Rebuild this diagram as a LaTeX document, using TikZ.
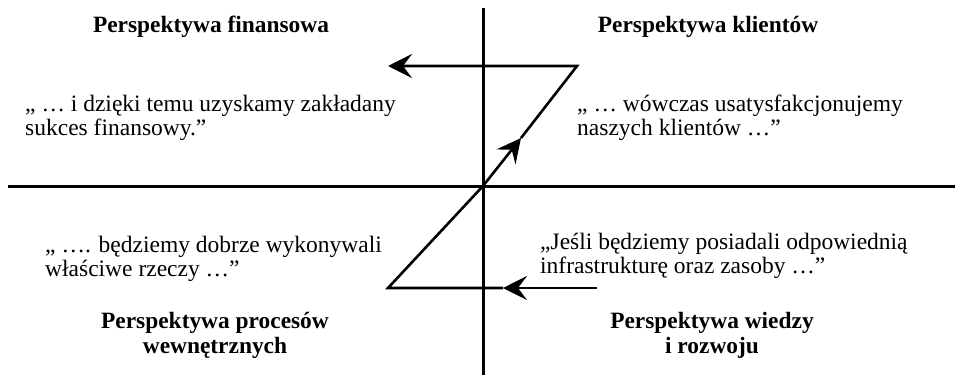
\documentclass[tikz,border=0pt]{standalone}
\usepackage{fontspec}
\setmainfont{Liberation Serif}
\usetikzlibrary{arrows.meta}
\begin{document}
\begin{tikzpicture}[x=1pt,y=-1pt,
  axis/.style={line width=3pt},
  flow/.style={line width=2.6pt},
  tip/.style={-{Stealth[length=24pt,width=24pt,inset=9pt]}},
  title/.style={font=\fontsize{23.4}{25}\selectfont\bfseries,align=center,inner sep=0pt,anchor=base},
  quote/.style={font=\fontsize{23.5}{24}\selectfont,align=left,inner sep=0pt,anchor=base west}]
\useasboundingbox (0,0) rectangle (955,375);
% axes
\coordinate (vt) at (483,8);
\coordinate (vb) at (483,375);
\coordinate (hl) at (8,186);
\coordinate (hr) at (955,186);
\draw[axis] (vt) -- (vb);
\draw[axis] (hl) -- (hr);
% flow path
\coordinate (o) at (483,186);
\coordinate (start) at (597,288);
\coordinate (bmid) at (503,288);
\coordinate (bl) at (388,288);
\coordinate (mid) at (521,138);
\coordinate (tr) at (577,66);
\coordinate (end) at (388,66);
\draw[flow,tip] (start) -- (bmid);
\draw[flow,line join=miter] (bmid) -- (bl) -- (o);
\draw[flow,tip] (o) -- (mid);
\draw[flow,tip,line join=miter] (mid) -- (tr) -- (end);
% titles
\node[title] (t1) at (211,32) {Perspektywa finansowa};
\node[title] (t2) at (708,32) {Perspektywa klientów};
\node[title] (t3) at (215,353) {Perspektywa procesów\\wewnętrznych};
\node[title] (t4) at (712,353) {Perspektywa wiedzy\\i rozwoju};
% quotes (anchor = baseline of last line)
\node[quote] (q1) at (25,135) {„ … i dzięki temu uzyskamy zakładany\\sukces finansowy.”};
\node[quote] (q2) at (577,135) {„ … wówczas usatysfakcjonujemy\\naszych klientów …”};
\node[quote] (q3) at (45,276) {„ …. będziemy dobrze wykonywali\\właściwe rzeczy …”};
\node[quote] (q4) at (540,273) {„Jeśli będziemy posiadali odpowiednią\\infrastrukturę oraz zasoby …”};
\end{tikzpicture}
\end{document}
